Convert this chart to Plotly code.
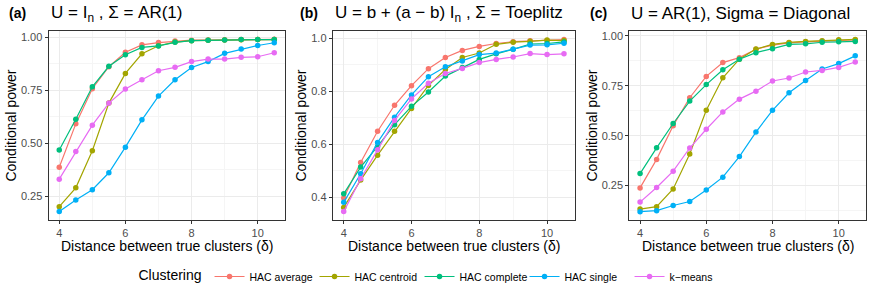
import plotly.graph_objects as go

delta = [4, 4.5, 5, 5.5, 6, 6.5, 7, 7.5, 8, 8.5, 9, 9.5, 10, 10.5]
methods = ["HAC average", "HAC centroid", "HAC complete", "HAC single", "k\u2212means"]
colors = ["#F8766D", "#A3A500", "#00BF7D", "#00B0F6", "#E76BF3"]

# Panel (a): U = I_n, Sigma = AR(1)
a_average = [0.387, 0.592, 0.758, 0.862, 0.930, 0.965, 0.976, 0.983, 0.987, 0.988, 0.989, 0.990, 0.990, 0.991]
a_centroid = [0.201, 0.290, 0.465, 0.690, 0.830, 0.923, 0.961, 0.978, 0.985, 0.987, 0.988, 0.989, 0.990, 0.990]
a_complete = [0.469, 0.614, 0.767, 0.864, 0.918, 0.953, 0.960, 0.977, 0.985, 0.987, 0.988, 0.990, 0.990, 0.990]
a_single = [0.178, 0.233, 0.281, 0.361, 0.482, 0.611, 0.723, 0.800, 0.858, 0.886, 0.925, 0.945, 0.962, 0.975]
a_kmeans = [0.331, 0.461, 0.586, 0.690, 0.757, 0.800, 0.843, 0.859, 0.886, 0.898, 0.898, 0.906, 0.909, 0.928]

# Panel (b): U = b + (a - b) I_n, Sigma = Toeplitz
b_average = [0.397, 0.531, 0.649, 0.747, 0.821, 0.885, 0.927, 0.954, 0.969, 0.980, 0.987, 0.990, 0.991, 0.995]
b_centroid = [0.362, 0.465, 0.559, 0.649, 0.735, 0.822, 0.882, 0.927, 0.944, 0.977, 0.985, 0.988, 0.993, 0.991]
b_complete = [0.413, 0.514, 0.592, 0.674, 0.743, 0.797, 0.857, 0.889, 0.920, 0.941, 0.958, 0.978, 0.980, 0.986]
b_single = [0.381, 0.489, 0.607, 0.702, 0.786, 0.855, 0.892, 0.914, 0.938, 0.944, 0.958, 0.974, 0.975, 0.981]
b_kmeans = [0.346, 0.470, 0.579, 0.690, 0.771, 0.830, 0.867, 0.886, 0.908, 0.920, 0.929, 0.942, 0.938, 0.941]

# Panel (c): U = AR(1), Sigma = Diagonal
c_average = [0.238, 0.381, 0.550, 0.690, 0.797, 0.866, 0.891, 0.933, 0.954, 0.965, 0.970, 0.974, 0.978, 0.980]
c_centroid = [0.132, 0.144, 0.233, 0.408, 0.627, 0.790, 0.883, 0.934, 0.957, 0.967, 0.972, 0.976, 0.980, 0.982]
c_complete = [0.310, 0.439, 0.561, 0.673, 0.756, 0.830, 0.883, 0.916, 0.936, 0.957, 0.960, 0.968, 0.970, 0.972]
c_single = [0.119, 0.124, 0.150, 0.170, 0.228, 0.292, 0.395, 0.518, 0.627, 0.715, 0.776, 0.834, 0.861, 0.900]
c_kmeans = [0.167, 0.240, 0.322, 0.438, 0.532, 0.619, 0.683, 0.723, 0.774, 0.789, 0.819, 0.827, 0.842, 0.869]

panels = [
    [a_average, a_centroid, a_complete, a_single, a_kmeans],
    [b_average, b_centroid, b_complete, b_single, b_kmeans],
    [c_average, c_centroid, c_complete, c_single, c_kmeans],
]
tags = ["(a)", "(b)", "(c)"]
titles = [
    "U = I<sub>n</sub> , \u03a3 = AR(1)",
    "U = b + (a \u2212 b) I<sub>n</sub> , \u03a3 = Toeplitz",
    "U = AR(1), Sigma = Diagonal",
]
x_ticks = [4, 6, 8, 10]
y_ticks = [[0.25, 0.50, 0.75, 1.00], [0.4, 0.6, 0.8, 1.0], [0.25, 0.50, 0.75, 1.00]]
y_minor = [[0.375, 0.625, 0.875], [0.5, 0.7, 0.9], [0.125, 0.375, 0.625, 0.875]]
y_fmt = [".2f", ".1f", ".2f"]
y_ranges = [[0.137, 1.031], [0.3135, 1.0275], [0.076, 1.025]]

W, H = 872, 291
px_left = [48.5, 332.7, 629.3]
px_right = [285.0, 575.0, 866.0]
px_top, px_bot = 31.0, 221.0
tag_x = [7, 298, 588]
ytitle_x = [11, 301, 592]

FONT = "Liberation Sans, Arial, sans-serif"
fig = go.Figure()

for p in range(3):
    xa = "x" if p == 0 else f"x{p+1}"
    ya = "y" if p == 0 else f"y{p+1}"
    for m in range(5):
        fig.add_trace(go.Scatter(
            x=delta, y=panels[p][m], mode="lines+markers", name=methods[m],
            line=dict(color=colors[m], width=1.2),
            marker=dict(color=colors[m], size=5.5),
            xaxis=xa, yaxis=ya, showlegend=(p == 0), legendgroup=methods[m],
        ))
    xkey = "xaxis" if p == 0 else f"xaxis{p+1}"
    ykey = "yaxis" if p == 0 else f"yaxis{p+1}"
    common = dict(showline=True, mirror=True, linecolor="#333333", linewidth=1,
                  ticks="outside", ticklen=3, tickcolor="#333333", tickwidth=1,
                  gridcolor="#EBEBEB", gridwidth=1, zeroline=False,
                  tickfont=dict(family=FONT, size=11, color="#4D4D4D"))
    fig.update_layout({
        xkey: dict(common, domain=[px_left[p] / W, px_right[p] / W], anchor=ya,
                   range=[3.675, 10.825], tickvals=x_ticks,
                   minor=dict(tickvals=[5, 7, 9], showgrid=True, gridcolor="#F5F5F5", gridwidth=0.6, ticks="")),
        ykey: dict(common, domain=[1 - px_bot / H, 1 - px_top / H], anchor=xa,
                   range=y_ranges[p], tickvals=y_ticks[p], tickformat=y_fmt[p],
                   minor=dict(tickvals=y_minor[p], showgrid=True, gridcolor="#F5F5F5", gridwidth=0.6, ticks="")),
    })
    fig.add_annotation(text="<b>" + tags[p] + "</b>", x=tag_x[p] / W, y=1 - 13 / H,
                       xref="paper", yref="paper", xanchor="left", yanchor="middle",
                       showarrow=False, font=dict(family=FONT, size=14, color="black"))
    fig.add_annotation(text=titles[p], x=px_left[p] / W, y=1 - 14 / H,
                       xref="paper", yref="paper", xanchor="left", yanchor="middle",
                       showarrow=False, font=dict(family=FONT, size=17, color="black"))
    fig.add_annotation(text="Distance between true clusters (\u03b4)",
                       x=(px_left[p] + px_right[p]) / 2 / W, y=1 - 246.5 / H,
                       xref="paper", yref="paper", xanchor="center", yanchor="middle",
                       showarrow=False, font=dict(family=FONT, size=14, color="black"))
    fig.add_annotation(text="Conditional power", textangle=-90,
                       x=ytitle_x[p] / W, y=1 - (px_top + px_bot) / 2 / H,
                       xref="paper", yref="paper", xanchor="center", yanchor="middle",
                       showarrow=False, font=dict(family=FONT, size=14, color="black"))

fig.update_layout(
    width=W, height=H, margin=dict(l=0, r=0, t=0, b=0),
    paper_bgcolor="white", plot_bgcolor="white",
    font=dict(family=FONT, color="black"),
    legend=dict(orientation="h", x=0.5, xanchor="center", y=1 - 277.5 / H, yanchor="middle",
                title=dict(text="Clustering", side="left", font=dict(family=FONT, size=14)),
                font=dict(family=FONT, size=10.5, color="black"),
                itemwidth=30, entrywidth=60, entrywidthmode="pixels",
                tracegroupgap=0, bgcolor="rgba(0,0,0,0)"),
)

fig.write_html("out.html", config={"displayModeBar": False},
               post_script="document.body.style.margin='0';document.body.style.overflow='hidden';")
